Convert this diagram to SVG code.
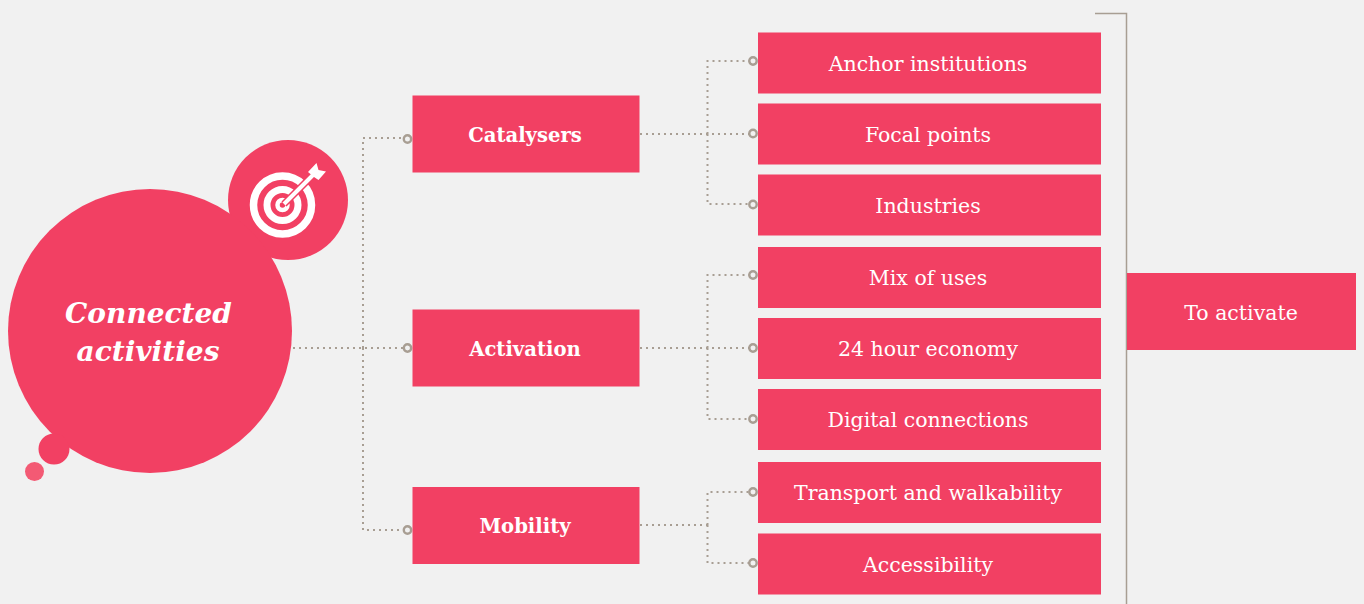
<svg xmlns="http://www.w3.org/2000/svg" width="1364" height="604" viewBox="0 0 1364 604">
<defs><style>
.box{fill:#f24063}
.t{font-family:"DejaVu Serif","Liberation Serif",serif;font-size:20.5px;fill:#fff;text-anchor:middle}
.b{font-family:"DejaVu Serif","Liberation Serif",serif;font-size:19.6px;font-weight:bold;fill:#fff;text-anchor:middle}
.i{font-family:"DejaVu Serif","Liberation Serif",serif;font-size:28px;font-weight:bold;font-style:italic;fill:#fff;text-anchor:middle}
.d{fill:none;stroke:#a89e93;stroke-width:2;stroke-dasharray:2 4}
.o{fill:#f1f1f1;stroke:#a89e93;stroke-width:2.400}
</style></defs>
<rect width="1364" height="604" fill="#f1f1f1"/>
<g id="connectors">
<path class="d" d="M293 348H403M363 348V138H403M363 348V530H403"/>
<path class="d" d="M640 134H749M707.500 134V61H749M707.500 134V204H749"/>
<path class="d" d="M640 348H749M707.500 348V275H749M707.500 348V419H749"/>
<path class="d" d="M640 525H709M707.500 525V492H749M707.500 525V563H749"/>
<circle class="o" cx="407.500" cy="139" r="3.700"/><circle class="o" cx="407.500" cy="348" r="3.700"/><circle class="o" cx="407.500" cy="530" r="3.700"/>
<circle class="o" cx="753" cy="61" r="3.700"/><circle class="o" cx="753" cy="133.500" r="3.700"/><circle class="o" cx="753" cy="204.500" r="3.700"/>
<circle class="o" cx="753" cy="275" r="3.700"/><circle class="o" cx="753" cy="348" r="3.700"/><circle class="o" cx="753" cy="419" r="3.700"/>
<circle class="o" cx="753" cy="492" r="3.700"/><circle class="o" cx="753" cy="563" r="3.700"/>
<path d="M1095 13.500H1126.500V604" fill="none" stroke="#a89e93" stroke-width="1.500"/>
</g>
<g id="target">
<circle class="box" cx="288" cy="200" r="60"/>
<g fill="none" stroke="#fff">
<circle cx="282.500" cy="205" r="29" stroke-width="7.500"/>
<circle cx="282.500" cy="205" r="15.500" stroke-width="7"/>
<circle cx="282.500" cy="205" r="5" stroke-width="4.500"/>
<path d="M284 204L312 176" stroke="#f24063" stroke-width="7"/>
<path d="M284 204L313 175" stroke-width="4"/>
</g>
<path d="M308 172L316.500 163L318.500 170L326 171.500L318.500 180L314 177Z" fill="#fff"/>
</g>
<g id="main">
<circle class="box" cx="150" cy="331" r="142"/>
<circle class="box" cx="54" cy="449" r="15.500"/>
<circle cx="34.500" cy="471.500" r="9.500" fill="#f35a74"/>
<text class="i" x="148.500" y="323">Connected</text>
<text class="i" x="148" y="361">activities</text>
</g>
<g id="catalysers"><rect class="box" x="412.500" y="95.500" width="227" height="77"/><text class="b" x="525" y="142">Catalysers</text></g>
<g id="activation"><rect class="box" x="412.500" y="309.500" width="227" height="77"/><text class="b" x="525" y="356">Activation</text></g>
<g id="mobility"><rect class="box" x="412.500" y="487" width="227" height="77"/><text class="b" x="525" y="533">Mobility</text></g>
<g id="anchor"><rect class="box" x="758" y="32.500" width="343" height="61"/><text class="t" x="928" y="71">Anchor institutions</text></g>
<g id="focal"><rect class="box" x="758" y="103.500" width="343" height="61"/><text class="t" x="928" y="142">Focal points</text></g>
<g id="industries"><rect class="box" x="758" y="174.500" width="343" height="61"/><text class="t" x="928" y="213">Industries</text></g>
<g id="mix"><rect class="box" x="758" y="247" width="343" height="61"/><text class="t" x="928" y="285">Mix of uses</text></g>
<g id="economy"><rect class="box" x="758" y="318" width="343" height="61"/><text class="t" x="928" y="356">24 hour economy</text></g>
<g id="digital"><rect class="box" x="758" y="389" width="343" height="61"/><text class="t" x="928" y="427">Digital connections</text></g>
<g id="transport"><rect class="box" x="758" y="462" width="343" height="61"/><text class="t" x="928" y="500">Transport and walkability</text></g>
<g id="accessibility"><rect class="box" x="758" y="533.500" width="343" height="61"/><text class="t" x="928" y="572">Accessibility</text></g>
<g id="activate"><rect class="box" x="1127" y="273" width="229" height="77"/><text class="t" x="1241" y="320">To activate</text></g>
</svg>
